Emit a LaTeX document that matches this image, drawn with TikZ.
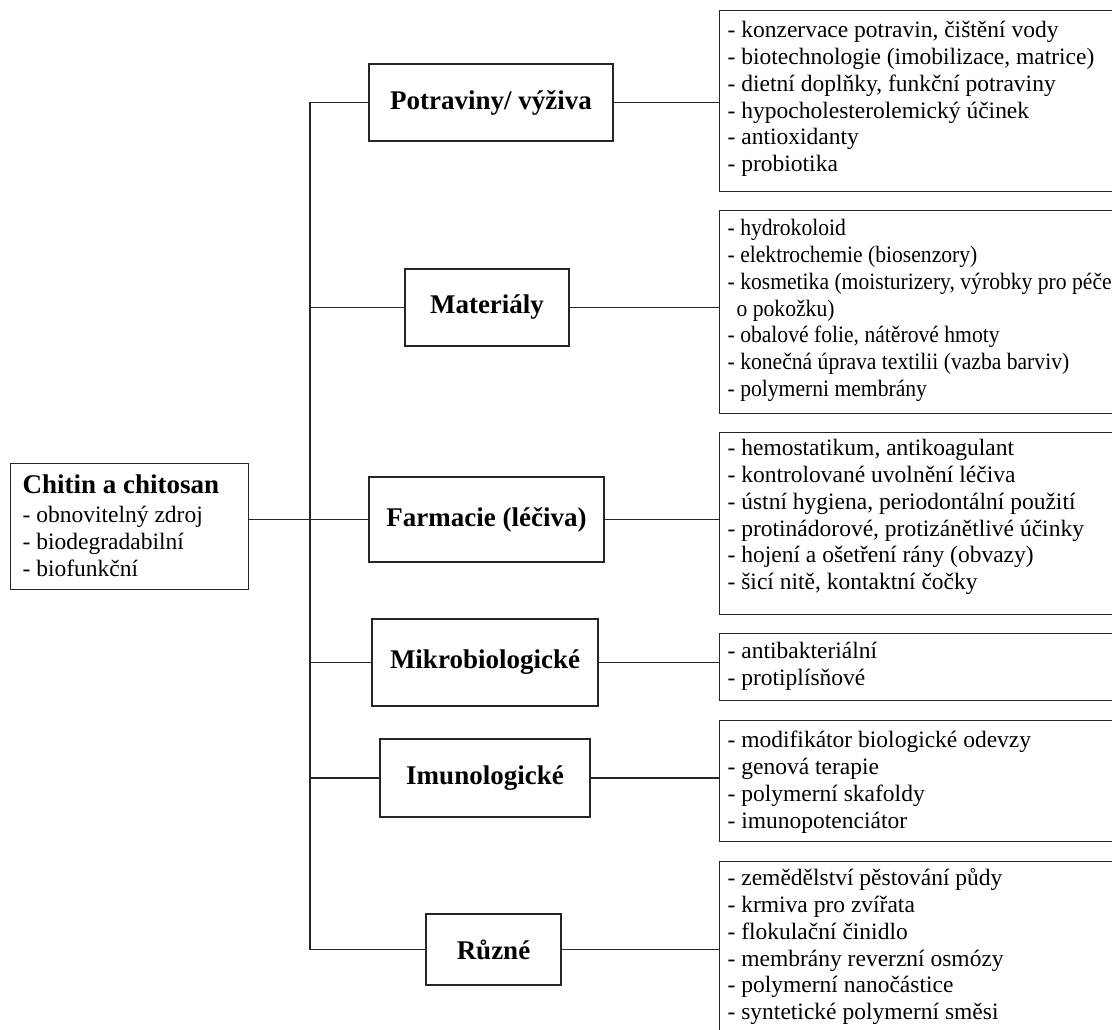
\documentclass[tikz,border=0pt]{standalone}
\usepackage{fontspec}
\setmainfont{Liberation Serif}
\newfontfamily\condserif[FakeStretch=0.92]{Liberation Serif}
\newcommand\bodyfnt{\fontsize{23.5}{26.8}\selectfont}
\newcommand\headfnt{\bfseries\fontsize{27}{30}\selectfont}
\newcommand\boxtext[5]{\parbox[c][#1][t]{#2}{\leftskip=#3\relax\noindent\vrule height #4 width 0pt depth 0pt\relax #5}}
\tikzset{
  ln/.style={line width=1.3pt, draw=black!85},
  hbox/.style 2 args={ln, draw, minimum width=#1, minimum height=#2, font=\headfnt, inner sep=0pt},
  tbox/.style={ln, draw, inner sep=0pt, anchor=north west},
}
\begin{document}
\begin{tikzpicture}[x=1pt,y=-1pt]
\useasboundingbox (0,0) rectangle (1112,1030);
\clip (0,0) rectangle (1112,1030);
\fill[white] (0,0) rectangle (1112,1030);
\coordinate (sp) at (310,0);

\node[tbox] (c) at (10,463) {\boxtext{126pt}{238pt}{12pt}{30pt}{{\headfnt Chitin a chitosan}\\[2pt]\bodyfnt - obnovitelný zdroj\\- biodegradabilní\\- biofunkční}};

\node[hbox={244pt}{77pt}] (pot) at (491,102.5) {Potraviny/ výživa};
\node[hbox={164pt}{77pt}] (mat) at (487,307.5) {Materiály};
\node[hbox={235pt}{85pt}] (far) at (486.5,519.5) {Farmacie (léčiva)};
\node[hbox={226pt}{87pt}] (mik) at (485,662.5) {Mikrobiologické};
\node[hbox={210pt}{78pt}] (imu) at (485,778) {Imunologické};
\node[hbox={135pt}{71pt}] (ruz) at (493.5,949.5) {Různé};

\node[tbox] (r1) at (719,10) {\boxtext{181pt}{421pt}{8pt}{27pt}{\bodyfnt - konzervace potravin, čištění vody\\- biotechnologie (imobilizace, matrice)\\- dietní doplňky, funkční potraviny\\- hypocholesterolemický účinek\\- antioxidanty\\- probiotika}};
\node[tbox] (r2) at (719,210) {\boxtext{203pt}{421pt}{8pt}{25pt}{\condserif\bodyfnt - hydrokoloid\\- elektrochemie (biosenzory)\\- kosmetika (moisturizery, výrobky pro péče\\\hspace*{9pt}o pokožku)\\- obalové folie, nátěrové hmoty\\- konečná úprava textilii (vazba barviv)\\- polymerni membrány}};
\node[tbox] (r3) at (719,432) {\boxtext{182pt}{421pt}{8pt}{23pt}{\bodyfnt - hemostatikum, antikoagulant\\- kontrolované uvolnění léčiva\\- ústní hygiena, periodontální použití\\- protinádorové, protizánětlivé účinky\\- hojení a ošetření rány (obvazy)\\- šicí nitě, kontaktní čočky}};
\node[tbox] (r4) at (719,633) {\boxtext{67pt}{421pt}{8pt}{25pt}{\bodyfnt - antibakteriální\\- protiplísňové}};
\node[tbox] (r5) at (719,720) {\boxtext{121pt}{421pt}{8pt}{27pt}{\bodyfnt - modifikátor biologické odevzy\\- genová terapie\\- polymerní skafoldy\\- imunopotenciátor}};
\node[tbox] (r6) at (719,861) {\boxtext{200pt}{421pt}{8pt}{24pt}{\bodyfnt - zemědělství pěstování půdy\\- krmiva pro zvířata\\- flokulační činidlo\\- membrány reverzní osmózy\\- polymerní nanočástice\\- syntetické polymerní směsi}};

\draw[ln] (pot.west) -- (pot.west -| sp) -- (ruz.west -| sp) -- (ruz.west);
\draw[ln] (mat.west) -- (mat.west -| sp);
\draw[ln] (mik.west) -- (mik.west -| sp);
\draw[ln] (imu.west) -- (imu.west -| sp);
\draw[ln] (c.east |- far.west) -- (far.west);

\draw[ln] (pot.east) -- (pot.east -| r1.west);
\draw[ln] (mat.east) -- (mat.east -| r2.west);
\draw[ln] (far.east) -- (far.east -| r3.west);
\draw[ln] (mik.east) -- (mik.east -| r4.west);
\draw[ln] (imu.east) -- (imu.east -| r5.west);
\draw[ln] (ruz.east) -- (ruz.east -| r6.west);
\end{tikzpicture}
\end{document}
